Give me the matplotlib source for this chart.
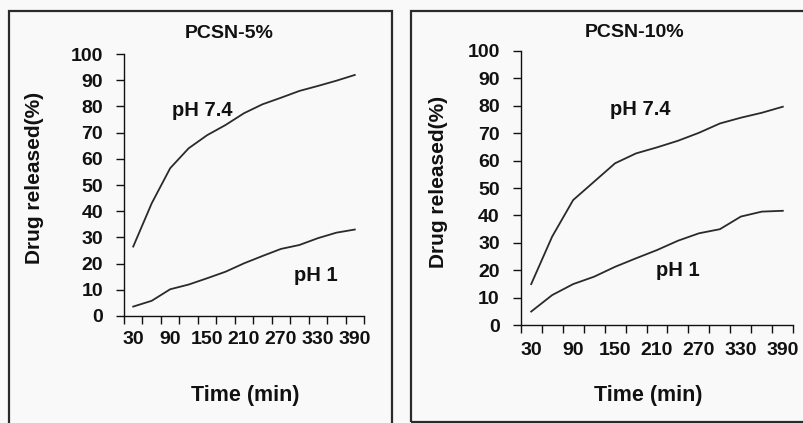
import matplotlib
matplotlib.use('Agg')
import matplotlib.pyplot as plt
from matplotlib.patches import Rectangle
from matplotlib.ticker import FixedLocator, FixedFormatter

plt.rcParams['font.family'] = ['Liberation Sans', 'DejaVu Sans']
plt.rcParams['font.weight'] = 'bold'

# ---- data ----
time_min = [30, 60, 90, 120, 150, 180, 210, 240, 270, 300, 330, 360, 390]
ph74_5 = [26.5, 43.0, 56.4, 64.0, 69.0, 72.9, 77.4, 80.8, 83.3, 85.9, 87.8, 89.8, 92.0]
ph1_5 = [3.6, 5.8, 10.2, 12.0, 14.4, 16.9, 20.1, 22.9, 25.6, 27.1, 29.7, 31.8, 33.0]
ph74_10 = [15.0, 32.3, 45.6, 52.3, 59.0, 62.6, 64.8, 67.2, 70.1, 73.5, 75.6, 77.4, 79.6]
ph1_10 = [5.0, 11.0, 15.0, 17.7, 21.3, 24.4, 27.4, 30.8, 33.5, 35.0, 39.6, 41.4, 41.7]
y_ticks = [0, 10, 20, 30, 40, 50, 60, 70, 80, 90, 100]
titles = ['PCSN-5%', 'PCSN-10%']
ylabel = 'Drug released(%)'
xlabel = 'Time (min)'
series_labels = ['pH 7.4', 'pH 1']

W, H = 804, 423
fig = plt.figure(figsize=(W / 100, H / 100), dpi=100)
bg = '#f9f9f9'
fig.patch.set_facecolor(bg)
txt = '#111111'
FS = 14

def fx(px):
    return px / W

def fy(py):
    return 1 - py / H

# panel borders
fig.patches.append(Rectangle((fx(8.5), fy(440)), fx(392.5) - fx(8.5), fy(11) - fy(440),
                             transform=fig.transFigure, fill=False, ec='#2a2a2a', lw=1.6, zorder=0))
fig.patches.append(Rectangle((fx(411), fy(422)), fx(830) - fx(411), fy(11) - fy(422),
                             transform=fig.transFigure, fill=False, ec='#2a2a2a', lw=1.6, zorder=0))

panels = [
    dict(box=(124, 364, 54, 316), data=(ph74_5, ph1_5), title_xy=(229.5, 33.3),
         ylab_xy=(35, 178), xlab_xy=(245, 395), ann=((3.73, 78.6), (9.87, 15.4)), xpad=11),
    dict(box=(520.7, 793.3, 50.7, 325.3), data=(ph74_10, ph1_10), title_xy=(634.3, 32.3),
         ylab_xy=(438.7, 182), xlab_xy=(648.7, 395), ann=((5.2, 78.7), (7.0, 19.9)), xpad=12),
]

n = len(time_min)
for k, p in enumerate(panels):
    x0, x1, ytop, ybot = p['box']
    ax = fig.add_axes([fx(x0), fy(ybot), fx(x1) - fx(x0), fy(ytop) - fy(ybot)])
    ax.set_facecolor(bg)
    ax.patch.set_alpha(0)
    idx = list(range(n))
    for series in p['data']:
        ax.plot(idx, series, color='#2a2a2a', lw=1.3, solid_joinstyle='round')
    ax.set_xlim(-0.5, n - 0.5)
    ax.set_ylim(0, 100)
    for s in ['top', 'right']:
        ax.spines[s].set_visible(False)
    for s in ['left', 'bottom']:
        ax.spines[s].set_color('#111111')
        ax.spines[s].set_linewidth(1.0)
    ax.set_yticks(y_ticks)
    ax.set_yticklabels([str(v) for v in y_ticks], fontsize=FS, fontweight='bold', color=txt)
    ax.tick_params(axis='y', direction='out', length=6, width=1.0, pad=9, color='#111111')
    # category boundaries as major ticks, labels on every other category
    ax.xaxis.set_major_locator(FixedLocator([i - 0.5 for i in range(n + 1)]))
    ax.xaxis.set_major_formatter(FixedFormatter([''] * (n + 1)))
    lab_pos = idx[::2]
    ax.xaxis.set_minor_locator(FixedLocator(lab_pos))
    ax.xaxis.set_minor_formatter(FixedFormatter([str(time_min[i]) for i in lab_pos]))
    ax.tick_params(axis='x', which='major', direction='out', length=6, width=1.0, color='#111111')
    ax.tick_params(axis='x', which='minor', length=0, pad=p['xpad'], labelsize=FS, labelcolor=txt)
    for lbl in ax.get_xticklabels(minor=True):
        lbl.set_fontweight('bold')
    (a1, a2) = p['ann']
    ax.text(a1[0], a1[1], series_labels[0], fontsize=14.5, fontweight='bold', color=txt,
            ha='center', va='center')
    ax.text(a2[0], a2[1], series_labels[1], fontsize=14.5, fontweight='bold', color=txt,
            ha='center', va='center')
    fig.text(fx(p['title_xy'][0]), fy(p['title_xy'][1]), titles[k], fontsize=14,
             fontweight='bold', color=txt, ha='center', va='center')
    fig.text(fx(p['ylab_xy'][0]), fy(p['ylab_xy'][1]), ylabel, fontsize=15,
             fontweight='bold', color=txt, ha='center', va='center', rotation=90)
    fig.text(fx(p['xlab_xy'][0]), fy(p['xlab_xy'][1]), xlabel, fontsize=15.5,
             fontweight='bold', color=txt, ha='center', va='center')

fig.savefig('out.png', dpi=100, facecolor=bg)
